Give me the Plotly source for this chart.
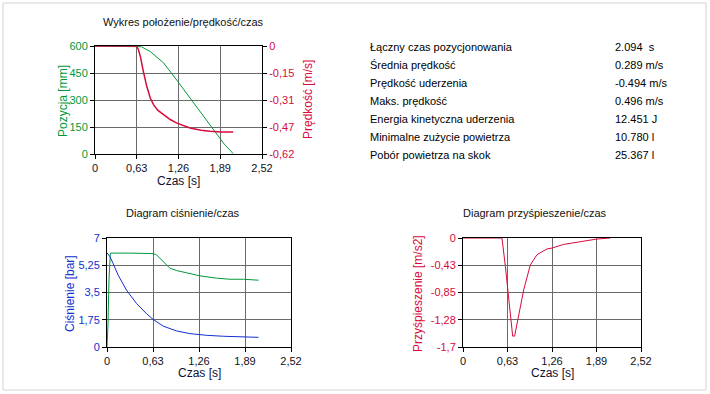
import plotly.graph_objects as go

W, H = 710, 394

# ---------------- data ----------------
t_pos = [0, 0.3, 0.62, 0.7, 0.835, 1.035, 1.235, 1.435, 1.635, 1.835, 1.95, 2.085]
pos_mm = [600, 600, 600, 596, 569, 506, 410, 310, 209, 107, 55, 2]

t_vel = [0, 0.3, 0.625, 0.655, 0.685, 0.735, 0.78, 0.835, 0.885, 0.95, 1.035,
         1.135, 1.235, 1.335, 1.435, 1.6, 1.735, 1.9, 2.085]
vel_ms = [0, 0, 0, -0.02, -0.061, -0.156, -0.23, -0.30, -0.338, -0.37, -0.395,
          -0.422, -0.443, -0.458, -0.471, -0.483, -0.49, -0.493, -0.494]

t_p_supply = [0, 0.014, 0.027, 0.046, 0.3, 0.586, 0.63, 0.678, 0.77, 0.861, 0.953,
              1.136, 1.27, 1.5, 1.686, 1.87, 2.075]
p_supply = [0, 1.5, 4.3, 6.03, 6.03, 6.03, 6.0, 5.92, 5.49, 5.06, 4.91,
            4.7, 4.57, 4.42, 4.35, 4.35, 4.29]

t_p_exhaust = [0, 0.04, 0.082, 0.151, 0.266, 0.403, 0.54, 0.632, 0.77, 0.953,
               1.136, 1.365, 1.594, 1.87, 2.075]
p_exhaust = [6.05, 5.8, 5.38, 4.63, 3.66, 2.8, 2.15, 1.77, 1.34, 1.03,
             0.86, 0.75, 0.69, 0.65, 0.62]

t_acc = [0, 0.3, 0.552, 0.6, 0.647, 0.68, 0.703, 0.731, 0.788, 0.859, 0.953,
         1.048, 1.19, 1.26, 1.425, 1.614, 1.897, 2.086]
acc = [0, 0, 0, -0.445, -0.915, -1.28, -1.53, -1.53, -1.23, -0.81, -0.42,
       -0.26, -0.17, -0.157, -0.1, -0.068, -0.016, 0]

x_tickvals = [0, 0.63, 1.26, 1.89, 2.52]
x_ticktext = ["0", "0,63", "1,26", "1,89", "2,52"]
pos_tickvals = [0, 150, 300, 450, 600]
pos_ticktext = ["0", "150", "300", "450", "600"]
vel_tickvals = [0, -0.155, -0.31, -0.465, -0.62]
vel_ticktext = ["0", "-0,15", "-0,31", "-0,47", "-0,62"]
p_tickvals = [0, 1.75, 3.5, 5.25, 7]
p_ticktext = ["0", "1,75", "3,5", "5,25", "7"]
acc_tickvals = [0, -0.425, -0.85, -1.275, -1.7]
acc_ticktext = ["0", "-0,43", "-0,85", "-1,28", "-1,7"]

stat_labels = ["Łączny czas pozycjonowania", "Średnia prędkość", "Prędkość uderzenia",
               "Maks. prędkość", "Energia kinetyczna uderzenia",
               "Minimalne zużycie powietrza", "Pobór powietrza na skok"]
stat_values = ["2.094  s", "0.289 m/s", "-0.494 m/s", "0.496 m/s", "12.451 J",
               "10.780 l", "25.367 l"]

# ---------------- styles ----------------
GREEN = "#00993a"
RED = "#d70a3c"
BLUE = "#1030d0"
GRID = "#6a6a6a"
FONT = "Liberation Sans"


def px_x(x):
    return x / W


def px_y(y):
    return 1 - y / H


fig = go.Figure()
fig.add_trace(go.Scatter(x=t_pos, y=pos_mm, mode="lines", line=dict(color=GREEN, width=1),
                         xaxis="x", yaxis="y"))
fig.add_trace(go.Scatter(x=t_vel, y=vel_ms, mode="lines", line=dict(color=RED, width=1.5),
                         xaxis="x", yaxis="y2"))
fig.add_trace(go.Scatter(x=t_p_supply, y=p_supply, mode="lines", line=dict(color=GREEN, width=1),
                         xaxis="x2", yaxis="y3"))
fig.add_trace(go.Scatter(x=t_p_exhaust, y=p_exhaust, mode="lines", line=dict(color=BLUE, width=1),
                         xaxis="x2", yaxis="y3"))
fig.add_trace(go.Scatter(x=t_acc, y=acc, mode="lines", line=dict(color=RED, width=1),
                         xaxis="x3", yaxis="y4"))

common = dict(showline=True, linecolor="black", linewidth=1, mirror=True,
              ticks="outside", ticklen=4, tickcolor="black", tickwidth=1,
              showgrid=True, gridcolor=GRID, gridwidth=1, zeroline=False,
              fixedrange=True, automargin=False)


def xax(domain, anchor):
    return dict(common, domain=domain, anchor=anchor, range=[0, 2.52],
                tickmode="array", tickvals=x_tickvals, ticktext=x_ticktext,
                tickfont=dict(color="#101020", size=11, family=FONT))


fig.update_layout(
    template="none",
    width=W, height=H,
    margin=dict(l=0, r=0, t=0, b=0, pad=0, autoexpand=False),
    paper_bgcolor="white", plot_bgcolor="white",
    showlegend=False,
    font=dict(family=FONT, size=11, color="black"),
    xaxis=xax([px_x(95), px_x(262)], "y"),
    yaxis=dict(common, domain=[px_y(154), px_y(46)], anchor="x", range=[0, 600],
               tickmode="array", tickvals=pos_tickvals, ticktext=pos_ticktext,
               tickfont=dict(color=GREEN, size=11, family=FONT)),
    yaxis2=dict(common, overlaying="y", side="right", anchor="x", range=[-0.62, 0],
                mirror=False, showgrid=False,
                tickmode="array", tickvals=vel_tickvals, ticktext=vel_ticktext,
                tickfont=dict(color=RED, size=11, family=FONT)),
    xaxis2=xax([px_x(107), px_x(291)], "y3"),
    yaxis3=dict(common, domain=[px_y(347), px_y(238)], anchor="x2", range=[0, 7],
                tickmode="array", tickvals=p_tickvals, ticktext=p_ticktext,
                tickfont=dict(color=BLUE, size=11, family=FONT)),
    xaxis3=xax([px_x(463), px_x(641)], "y4"),
    yaxis4=dict(common, domain=[px_y(347), px_y(238)], anchor="x3", range=[-1.7, 0],
                tickmode="array", tickvals=acc_tickvals, ticktext=acc_ticktext,
                tickfont=dict(color=RED, size=11, family=FONT)),
)

ann = []


def text(x, y, s, color="black", angle=0, xanchor="center", size=11):
    ann.append(dict(x=px_x(x), y=px_y(y), xref="paper", yref="paper", text=s,
                    showarrow=False, xanchor=xanchor, yanchor="middle", textangle=angle,
                    font=dict(family=FONT, size=size, color=color)))


# titles
text(183, 22, "Wykres położenie/prędkość/czas", "#111111")
text(183, 213, "Diagram ciśnienie/czas", "#111111")
text(535, 213, "Diagram przyśpieszenie/czas", "#111111")
# axis titles
text(178, 181, "Czas [s]", "#101030", size=12)
text(199, 373, "Czas [s]", "#101030", size=12)
text(552, 373, "Czas [s]", "#101030", size=12)
text(63, 101, "Pozycja [mm]", GREEN, angle=-90, size=12)
text(308, 100, "Prędkość [m/s]", RED, angle=-90, size=12)
text(70, 294, "Ciśnienie [bar]", BLUE, angle=-90, size=12)
text(418, 294, "Przyśpieszenie [m/s2]", RED, angle=-90, size=12)

# stats
for i, (lab, val) in enumerate(zip(stat_labels, stat_values)):
    yy = 47 + i * 18
    text(368, yy, lab, "black", xanchor="left")
    text(613, yy, val, "black", xanchor="left")

fig.update_layout(annotations=ann)

fig.add_shape(type="rect", xref="paper", yref="paper",
              x0=px_x(3), x1=px_x(706), y0=px_y(390), y1=px_y(3),
              line=dict(color="#d4d4d4", width=1), layer="below")

fig.write_html("out.html", config={"displayModeBar": False},
               post_script="document.body.style.margin='0';document.body.style.padding='0';")
